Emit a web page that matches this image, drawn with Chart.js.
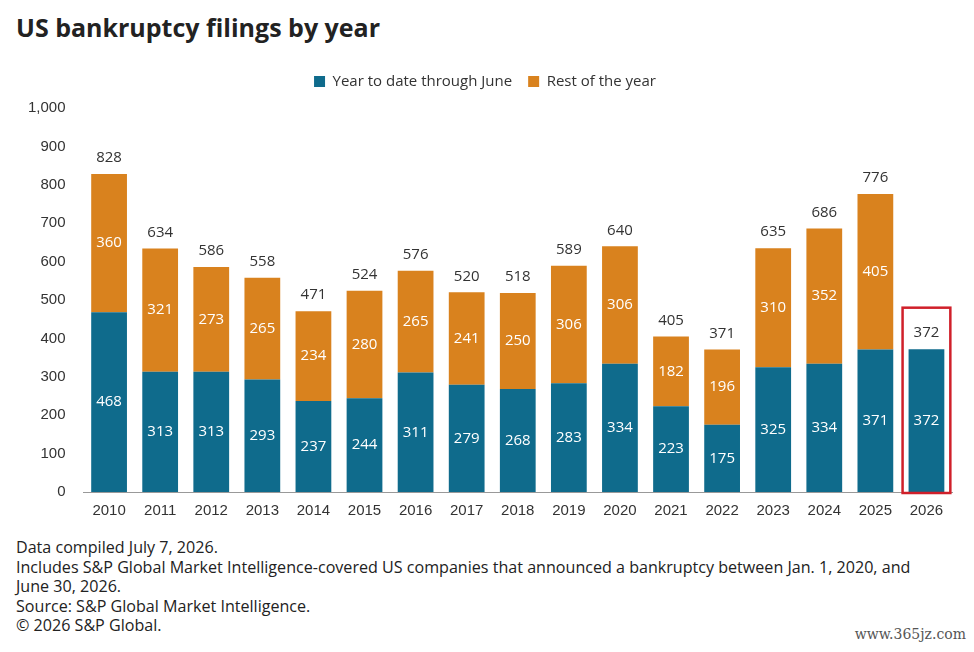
<!DOCTYPE html>
<html>
<head>
<meta charset="utf-8">
<script src="https://cdn.jsdelivr.net/npm/chart.js@4"></script>
<style>
  body { margin: 0; background: #fff; font-family: "Open Sans", sans-serif; color: #222; }
  #title { position: absolute; left: 16px; top: 10px; font-size: 25px; font-weight: bold; }
  #wrap { position: absolute; left: 0; top: 58px; width: 974px; height: 464px; }
  #notes { position: absolute; left: 16px; top: 538px; font-size: 16.1px; line-height: 19.5px; color: #222; }
  #mark { position: absolute; right: 8px; bottom: 10px; font-size: 14px; color: #555; font-family: "DejaVu Serif", serif; }
</style>
</head>
<body>
<div id="title">US bankruptcy filings by year</div>
<div id="wrap"><canvas id="chart"></canvas></div>
<div id="notes">
Data compiled July 7, 2026.<br>
Includes S&amp;P Global Market Intelligence-covered US companies that announced a bankruptcy between Jan. 1, 2020, and<br>
June 30, 2026.<br>
Source: S&amp;P Global Market Intelligence.<br>
© 2026 S&amp;P Global.
</div>
<div id="mark">www.365jz.com</div>
<script>
const years = ['2010','2011','2012','2013','2014','2015','2016','2017','2018','2019','2020','2021','2022','2023','2024','2025','2026'];
const ytd = [468, 313, 313, 293, 237, 244, 311, 279, 268, 283, 334, 223, 175, 325, 334, 371, 372];
const rest = [360, 321, 273, 265, 234, 280, 265, 241, 250, 306, 306, 182, 196, 310, 352, 405, null];

// value labels inside segments and totals on top, plus the red box around 2026
const labelPlugin = {
    id: 'labels',
    beforeInit(chart) {
        const fit = chart.legend.fit;
        chart.legend.fit = function () {
            fit.bind(chart.legend)();
            this.height += 9;
        };
    },
    afterDatasetsDraw(chart) {
        const ctx = chart.ctx;
        const y = chart.scales.y;
        ctx.save();
        ctx.font = '15px "Open Sans", sans-serif';
        ctx.textAlign = 'center';
        ctx.textBaseline = 'middle';
        chart.data.datasets.forEach((ds, di) => {
            chart.getDatasetMeta(di).data.forEach((bar, i) => {
                if (ds.data[i] == null) return;
                ctx.fillStyle = '#fff';
                ctx.fillText(ds.data[i], bar.x, (bar.y + bar.base) / 2);
            });
        });
        const top = chart.getDatasetMeta(0).data;
        years.forEach((yr, i) => {
            const total = ytd[i] + (rest[i] || 0);
            ctx.fillStyle = '#333';
            ctx.fillText(total, top[i].x, y.getPixelForValue(total) - 16);
        });
        const last = top[years.length - 1];
        const w = last.width;
        ctx.strokeStyle = '#d0202a';
        ctx.lineWidth = 2.5;
        ctx.strokeRect(last.x - w / 2 - 6, y.getPixelForValue(480), w + 12, y.getPixelForValue(0) - y.getPixelForValue(480) + 1);
        ctx.restore();
    }
};

new Chart(document.getElementById('chart'), {
    type: 'bar',
    data: {
        labels: years,
        datasets: [{
            label: 'Year to date through June',
            data: ytd,
            backgroundColor: '#0f6b8c',
            barPercentage: 0.7,
            categoryPercentage: 1
        }, {
            label: 'Rest of the year',
            data: rest,
            backgroundColor: '#d9821e',
            barPercentage: 0.7,
            categoryPercentage: 1
        }]
    },
    options: {
        responsive: true,
        maintainAspectRatio: false,
        animation: false,
        layout: { padding: { left: 18, right: 22, top: 0 } },
        plugins: {
            legend: {
                position: 'top',
                labels: { boxWidth: 11, boxHeight: 11, font: { size: 15, family: '"Open Sans", sans-serif' }, color: '#333', padding: 16 }
            },
            tooltip: { enabled: false }
        },
        scales: {
            x: {
                stacked: true,
                grid: { display: false },
                border: { color: '#999' },
                ticks: { font: { size: 15 }, color: '#333', padding: 2 }
            },
            y: {
                stacked: true,
                min: 0,
                max: 1000,
                grid: { display: false },
                border: { display: false },
                ticks: {
                    stepSize: 100,
                    font: { size: 15 },
                    color: '#333',
                    padding: 10,
                    callback: v => v.toLocaleString('en-US')
                }
            }
        }
    },
    plugins: [labelPlugin]
});
</script>
</body>
</html>
